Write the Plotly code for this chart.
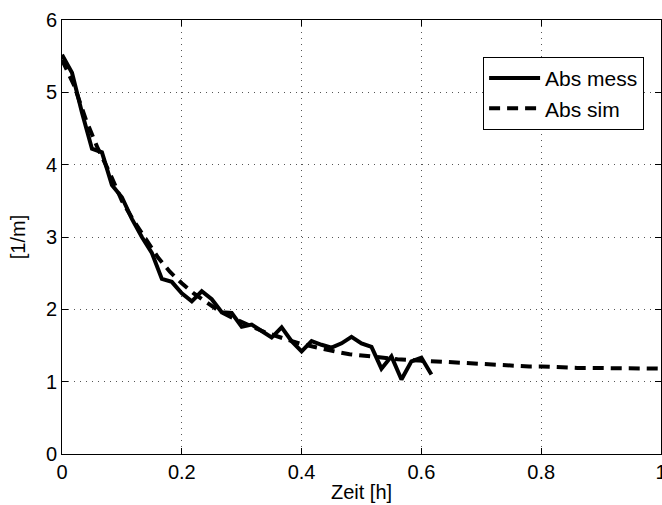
import plotly.graph_objects as go

# ---- data ----
meas_time = [0.0, 0.0167, 0.0333, 0.05, 0.0667, 0.0833, 0.1, 0.1167, 0.1333, 0.15,
             0.1667, 0.1833, 0.2, 0.2167, 0.2333, 0.25, 0.2667, 0.2833, 0.3, 0.3167,
             0.3333, 0.35, 0.3667, 0.3833, 0.4, 0.4167, 0.4333, 0.45, 0.4667, 0.4833,
             0.5, 0.5167, 0.5333, 0.55, 0.5667, 0.5833, 0.6, 0.6167]
meas_abs = [5.52, 5.27, 4.72, 4.22, 4.17, 3.72, 3.55, 3.25, 3.00, 2.78,
            2.42, 2.38, 2.22, 2.11, 2.25, 2.14, 1.96, 1.95, 1.76, 1.79,
            1.70, 1.61, 1.75, 1.56, 1.42, 1.56, 1.51, 1.47, 1.53, 1.62,
            1.53, 1.48, 1.18, 1.35, 1.03, 1.28, 1.33, 1.10]

sim_time = [0.0, 0.02, 0.04, 0.06, 0.08, 0.10, 0.12, 0.14, 0.16, 0.18,
            0.20, 0.22, 0.24, 0.26, 0.28, 0.30, 0.32, 0.34, 0.36, 0.38,
            0.40, 0.42, 0.44, 0.46, 0.48, 0.50, 0.52, 0.54, 0.56, 0.58,
            0.60, 0.62, 0.64, 0.66, 0.68, 0.70, 0.72, 0.74, 0.76, 0.78,
            0.80, 0.82, 0.84, 0.86, 0.88, 0.90, 0.92, 0.94, 0.96, 0.98, 1.00]
sim_abs = [5.45, 5.10, 4.62, 4.22, 3.88, 3.50, 3.22, 2.97, 2.72, 2.52,
           2.36, 2.22, 2.10, 1.99, 1.90, 1.82, 1.75, 1.68, 1.62, 1.57,
           1.52, 1.48, 1.44, 1.41, 1.38, 1.36, 1.34, 1.32, 1.31, 1.30,
           1.29, 1.28, 1.27, 1.26, 1.25, 1.24, 1.23, 1.22, 1.22, 1.21,
           1.21, 1.20, 1.20, 1.19, 1.19, 1.19, 1.19, 1.18, 1.18, 1.18, 1.18]

x_tickvals = [0, 0.2, 0.4, 0.6, 0.8, 1.0]
x_ticktext = ["0", "0.2", "0.4", "0.6", "0.8", "1"]
y_tickvals = [0, 1, 2, 3, 4, 5, 6]
y_ticktext = ["0", "1", "2", "3", "4", "5", "6"]

series_names = ["Abs mess", "Abs sim"]
x_title = "Zeit [h]"
y_title = "[1/m]"

FONT = "Liberation Sans, Arial, Helvetica, sans-serif"

fig = go.Figure()
fig.add_trace(go.Scatter(x=meas_time, y=meas_abs, mode="lines", name=series_names[0],
                         line=dict(color="black", width=4)))
fig.add_trace(go.Scatter(x=sim_time, y=sim_abs, mode="lines", name=series_names[1],
                         line=dict(color="black", width=4, dash="11px,7px")))

axis_common = dict(
    showline=True, linecolor="black", linewidth=1, mirror="ticks",
    ticks="inside", ticklen=6, tickwidth=1, tickcolor="black",
    showgrid=True, gridcolor="#555555", gridwidth=1, griddash="1px,5px",
    zeroline=False, tickfont=dict(family=FONT, size=20, color="black"),
    ticklabeloverflow="allow", automargin=False,
)

fig.update_xaxes(range=[0, 1], tickvals=x_tickvals, ticktext=x_ticktext,
                 title=dict(text=x_title, font=dict(family=FONT, size=20, color="black"), standoff=2),
                 **axis_common)
fig.update_yaxes(range=[0, 6], tickvals=y_tickvals, ticktext=y_ticktext,
                 title=dict(text=y_title, font=dict(family=FONT, size=20, color="black"), standoff=14),
                 **axis_common)

fig.update_layout(
    width=662, height=505,
    margin=dict(l=62, r=1, t=20, b=51, autoexpand=False),
    paper_bgcolor="white", plot_bgcolor="white",
    font=dict(family=FONT, size=20, color="black"),
    showlegend=True,
    legend=dict(x=0.703, y=0.915, xanchor="left", yanchor="top",
                bgcolor="white", bordercolor="black", borderwidth=1,
                font=dict(family=FONT, size=21, color="black"),
                itemwidth=51, tracegroupgap=0,
                entrywidth=168, entrywidthmode="pixels"),
)

fig.write_html("out.html")
